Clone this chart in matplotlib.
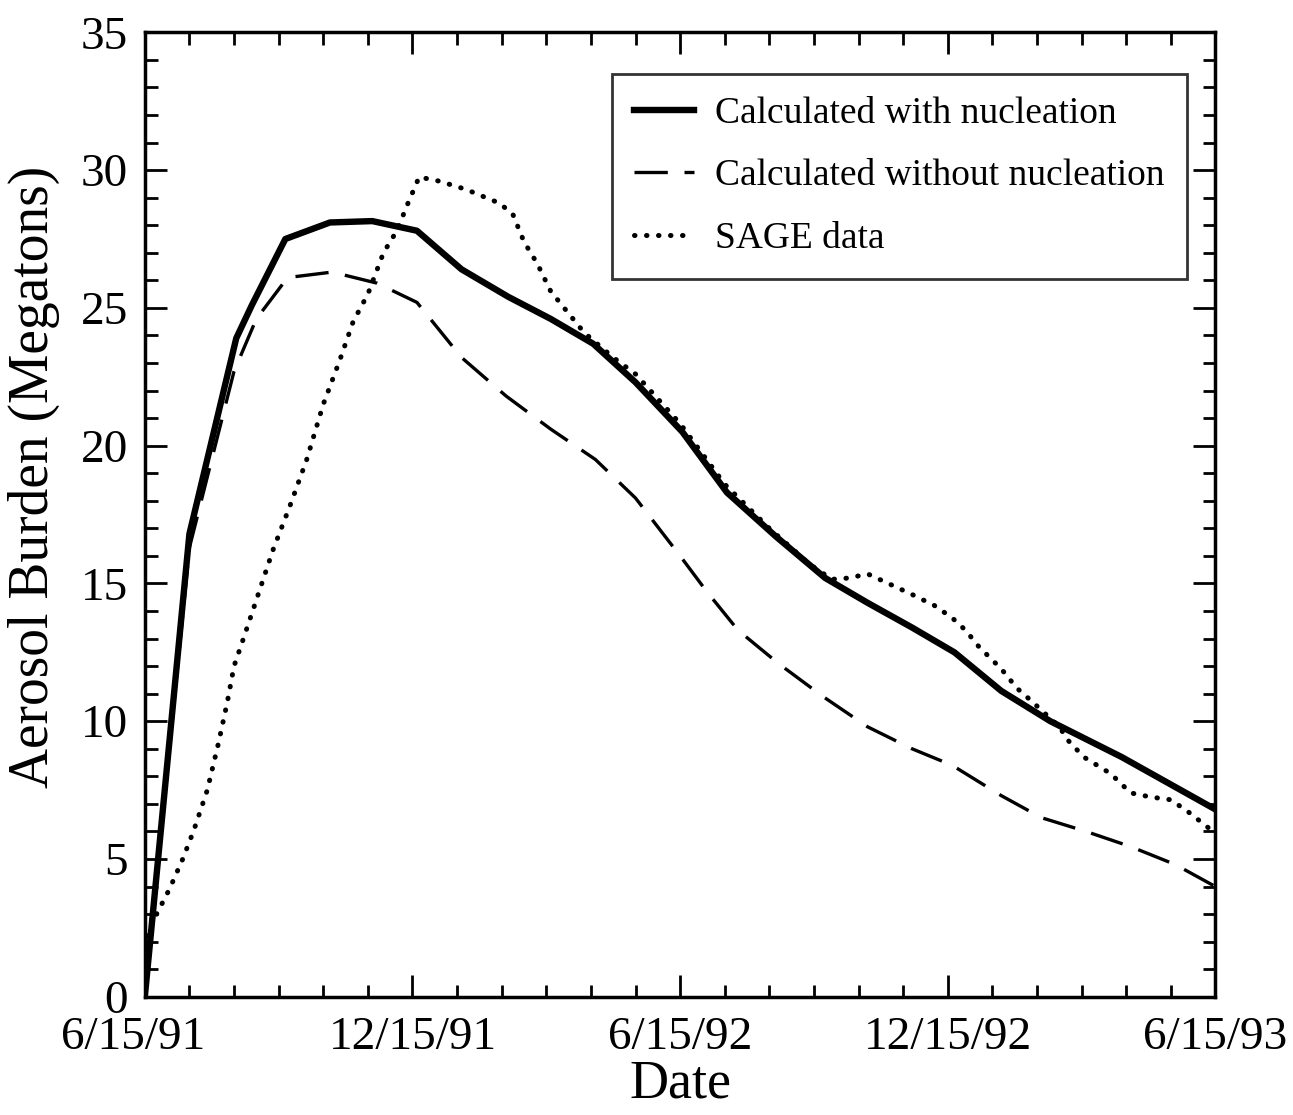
import matplotlib
matplotlib.use("Agg")
from matplotlib import pyplot as plt
from matplotlib.ticker import MultipleLocator
from matplotlib.transforms import ScaledTranslation

plt.rcParams['font.family'] = ['Liberation Serif', 'DejaVu Serif']

# months after 6/15/91
with_nuc_x = [0, 1.0, 2.05, 2.4, 3.15, 4.15, 5.1, 6.1, 7.1, 8.15, 9.1, 10.05, 11.0, 12.05,
              13.05, 14.15, 15.25, 16.2, 17.2, 18.15, 19.2, 20.3, 21.9, 24]
with_nuc_y = [0, 16.8, 23.9, 25.1, 27.5, 28.1, 28.15, 27.8, 26.4, 25.4, 24.6, 23.7, 22.3, 20.5,
              18.3, 16.7, 15.2, 14.3, 13.4, 12.5, 11.1, 10.0, 8.7, 6.8]

no_nuc_x = [0, 1.0, 2.0, 2.5, 3.2, 4.2, 5.2, 6.1, 6.5, 7.1, 8.1, 9.1, 10.1, 11.0, 12.0, 12.6,
            13.3, 14.2, 15.2, 16.2, 17.2, 18.1, 19.2, 20.1, 21.1, 22.1, 23.1, 24]
no_nuc_y = [0, 16.3, 22.7, 24.6, 26.1, 26.3, 25.9, 25.2, 24.4, 23.2, 21.8, 20.6, 19.5, 18.1, 16.0, 14.7,
            13.3, 12.1, 10.9, 9.8, 9.0, 8.4, 7.3, 6.5, 6.0, 5.45, 4.8, 4.0]

sage_x = [0.05, 0.2, 0.55, 0.85, 1.1, 1.4, 1.65, 1.85, 2.0, 2.2, 2.5, 2.87, 3.25, 3.63, 4.0, 4.37,
          4.67, 5.0, 5.35, 5.65, 5.9, 6.15, 6.6, 7.2, 7.95, 8.25, 8.5, 8.8, 9.1, 9.45, 9.85, 10.5,
          11.0, 12.0, 13.0, 14.0, 14.9, 15.4, 15.8, 16.2, 16.6, 17.2, 17.7, 18.1, 18.4, 18.7, 19.2,
          19.55, 19.9, 20.5, 20.7, 21.05, 21.65, 22.1, 22.55, 23.0, 23.4, 23.9, 24]
sage_y = [2.2, 2.8, 3.9, 5.0, 6.05, 7.5, 9.2, 10.7, 12.0, 12.95, 14.4, 16.2, 17.8, 19.5, 21.5, 23.1,
          24.5, 25.5, 27.0, 27.8, 28.8, 29.75, 29.6, 29.3, 28.8, 28.4, 27.4, 26.6, 25.6, 24.9, 24.1, 23.2,
          22.6, 20.8, 18.6, 17.0, 15.7, 15.15, 15.2, 15.35, 15.05, 14.6, 14.2, 13.75, 13.3, 12.7, 11.9,
          11.2, 10.7, 9.8, 9.3, 8.7, 8.1, 7.4, 7.25, 7.15, 6.7, 6.06, 5.9]

date_ticks = [0, 6, 12, 18, 24]
date_labels = ['6/15/91', '12/15/91', '6/15/92', '12/15/92', '6/15/93']

fig = plt.figure(figsize=(12.93, 11.15), dpi=100)
ax = fig.add_axes([0.112, 0.106, 0.828, 0.865])

ax.plot(with_nuc_x, with_nuc_y, color='black', lw=4.6, solid_joinstyle='round',
        label='Calculated with nucleation')
ax.plot(no_nuc_x, no_nuc_y, color='black', lw=2.4, linestyle=(0, (10, 5)),
        label='Calculated without nucleation')
ax.plot(sage_x, sage_y, color='black', lw=3.6, linestyle=(0, (0.1, 2.3)),
        dash_capstyle='round', label='SAGE data')

ax.set_xlim(0, 24)
ax.set_ylim(0, 35)
ax.set_xticks(date_ticks)
ax.set_xticklabels(date_labels)
ax.xaxis.set_minor_locator(MultipleLocator(1))
ax.yaxis.set_major_locator(MultipleLocator(5))
ax.yaxis.set_minor_locator(MultipleLocator(1))
ax.tick_params(which='both', direction='in', top=True, right=True, width=2, labelsize=34)
ax.tick_params(which='major', length=16, pad=12)
ax.tick_params(axis='x', which='major', pad=14)
ax.tick_params(which='minor', length=9)
for s in ax.spines.values():
    s.set_linewidth(2.5)

# first date label sits a little left of its tick
first = ax.get_xticklabels()[0]
first.set_transform(first.get_transform() + ScaledTranslation(-0.12, 0, fig.dpi_scale_trans))

ax.set_xlabel('Date', fontsize=39, labelpad=0)
ax.set_ylabel('Aerosol Burden (Megatons)', fontsize=40)
ax.yaxis.set_label_coords(-0.079, 0.539)

leg = ax.legend(loc='upper left', bbox_to_anchor=(0.436, 0.957), fontsize=27, frameon=True,
                fancybox=False, edgecolor='black', handlelength=1.6, handletextpad=0.55,
                labelspacing=0.75, borderpad=0.6, borderaxespad=0)
leg.get_frame().set_linewidth(2)

fig.savefig('out.png', dpi=100)
